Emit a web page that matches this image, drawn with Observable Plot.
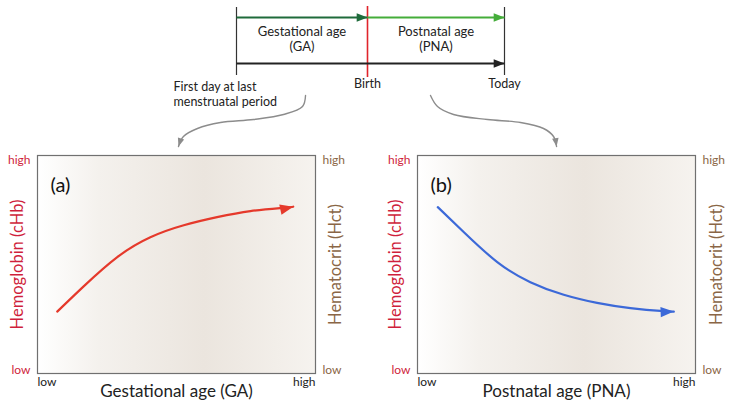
<!DOCTYPE html>
<html><head><meta charset="utf-8">
<script src="https://cdn.jsdelivr.net/npm/d3@7"></script>
<script src="https://cdn.jsdelivr.net/npm/@observablehq/plot@0.6"></script>
<style>
body{margin:0;background:#fff;}
#fig{position:relative;width:732px;height:412px;overflow:hidden;font-family:Lato,sans-serif;}
</style></head><body>
<svg width="0" height="0" style="position:absolute"><defs>
<linearGradient id="bg" x1="0" x2="1" y1="0" y2="0">
<stop offset="0" stop-color="#ffffff"/><stop offset="0.22" stop-color="#f4f1ed"/><stop offset="0.6" stop-color="#ebe5de"/><stop offset="1" stop-color="#f6f3ef"/>
</linearGradient></defs></svg>
<div id="fig"></div>
<script>
// ---- data ----
const events = ["First day at last\nmenstruatal period", "Birth", "Today"];
const eventTimes = [0, 1, 2];
const periods = ["Gestational age\n(GA)", "Postnatal age\n(PNA)"];
const periodStart = [0, 1];
const periodEnd = [1, 2];
// curved connectors from the timeline down to the two panels
const connLeftT  = [0.527, 0.504, 0.359, 0.130, -0.122, -0.298, -0.405, -0.443];
const connRightT = [1.460, 1.511, 1.628, 1.876, 2.117, 2.285, 2.358, 2.380];
const connY      = [95, 106, 114, 119, 122, 128, 136, 146];
const panelLabels = ["(a)", "(b)"];
const xTitles = ["Gestational age (GA)", "Postnatal age (PNA)"];
const yTitleLeft = "Hemoglobin (cHb)";
const yTitleRight = "Hematocrit (Hct)";
const levelLabels = ["low", "high"];
// panel (a): hemoglobin vs gestational age (relative 0..1)
const ga  = [0.071, 0.167, 0.287, 0.406, 0.526, 0.646, 0.766, 0.886, 0.920];
const hbA = [0.284, 0.401, 0.534, 0.625, 0.680, 0.717, 0.745, 0.760, 0.765];
// panel (b): hemoglobin vs postnatal age (relative 0..1)
const pna = [0.073, 0.167, 0.287, 0.406, 0.526, 0.646, 0.766, 0.886, 0.922];
const hbB = [0.763, 0.648, 0.511, 0.419, 0.361, 0.324, 0.300, 0.286, 0.284];

const RED = "#cf1f3c", BROWN = "#8a6646", DKGREEN = "#1f6b3b", LTGREEN = "#45ad3a";
const FONT = "Lato, sans-serif";

function fixMarkers(svg) {
  svg.querySelectorAll("marker").forEach(m => {
    const c = m.getAttribute("stroke");
    m.setAttribute("viewBox", "-10 -5 10 10");
    m.setAttribute("fill", c);
    m.setAttribute("stroke", "none");
    m.querySelectorAll("path").forEach(p => p.setAttribute("d", "M-9,-3.5L0,0L-9,3.5Z"));
  });
  return svg;
}
function place(el, left, top) {
  el.style.position = "absolute";
  el.style.left = left + "px";
  el.style.top = top + "px";
  el.style.background = "transparent";
  el.style.fontFamily = FONT;
  document.getElementById("fig").appendChild(el);
}

// ---- timeline ----
const spans = periods.map((p, i) => ({label: p, from: periodStart[i], to: periodEnd[i]}));
const evts = events.map((e, i) => ({label: e, t: eventTimes[i]}));
const conn = [
  ...connLeftT.map((t, j) => ({id: 0, t, y: connY[j]})),
  ...connRightT.map((t, j) => ({id: 1, t, y: connY[j]}))
];

const timeline = Plot.plot({
  width: 732, height: 152, margin: 0,
  x: {type: "linear", domain: eventTimes, range: [236, 367, 504], axis: null},
  y: {type: "identity", axis: null},
  marks: [
    Plot.ruleX(evts.filter(d => d.t !== 1), {x: "t", y1: 7, y2: 75, stroke: "#333", strokeWidth: 1.2}),
    Plot.ruleX(evts.filter(d => d.t === 1), {x: "t", y1: 6, y2: 77, stroke: "#e0242b", strokeWidth: 1.6}),
    Plot.link(spans.slice(0, 1), {x1: "from", x2: "to", y1: 17, y2: 17, stroke: DKGREEN, strokeWidth: 1.8, markerEnd: "arrow"}),
    Plot.link(spans.slice(1), {x1: "from", x2: "to", y1: 17, y2: 17, stroke: LTGREEN, strokeWidth: 1.8, markerEnd: "arrow"}),
    Plot.link([{from: eventTimes[0], to: eventTimes[2]}], {x1: "from", x2: "to", y1: 63, y2: 63, stroke: "#222", strokeWidth: 1.8, markerEnd: "arrow"}),
    Plot.text(spans, {x: d => (d.from + d.to) / 2, y: 38, text: "label", fontSize: 13, lineHeight: 1.15, fill: "#222"}),
    Plot.text(evts.filter(d => d.t === 0), {x: "t", y: 79, text: "label", lineAnchor: "top", textAnchor: "start", dx: -63, fontSize: 12.5, lineHeight: 1.25, fill: "#222"}),
    Plot.text(evts.filter(d => d.t !== 0), {x: "t", y: 79, text: "label", lineAnchor: "top", fontSize: 12.5, fill: "#222"}),
    Plot.line(conn, {x: "t", y: "y", z: "id", curve: "catmull-rom", stroke: "#8c8c8c", strokeWidth: 1.4, markerEnd: "arrow"})
  ]
});
place(fixMarkers(timeline), 0, 0);

// ---- panels ----
function panel(i, xs, ys, color) {
  const pts = xs.map((x, j) => ({x, y: ys[j]}));
  const ml = i === 0 ? 37 : 51, mr = i === 0 ? 51 : 37;
  const dxL = i === 0 ? -20 : -22, dxR = i === 0 ? 20 : 21;
  const common = {tickSize: 0, fontSize: 12, label: null};
  return Plot.plot({
    width: 366, height: 260, marginTop: 3, marginBottom: 39, marginLeft: ml, marginRight: mr,
    x: {domain: [0, 1]}, y: {domain: [0, 1]},
    marks: [
      Plot.frame({fill: "url(#bg)", stroke: "#707070", strokeWidth: 1.2}),
      Plot.axisX({...common, ticks: [0], tickFormat: () => levelLabels[0], textAnchor: "start", tickPadding: 4, fill: "#222"}),
      Plot.axisX({...common, ticks: [1], tickFormat: () => levelLabels[1], textAnchor: "end", tickPadding: 4, fill: "#222"}),
      Plot.axisY({...common, anchor: "left", ticks: [1], tickFormat: () => levelLabels[1], lineAnchor: "top", tickPadding: 7, fill: RED}),
      Plot.axisY({...common, anchor: "left", ticks: [0], tickFormat: () => levelLabels[0], lineAnchor: "bottom", tickPadding: 7, fill: RED}),
      Plot.axisY({...common, anchor: "right", ticks: [1], tickFormat: () => levelLabels[1], lineAnchor: "top", tickPadding: 7, fill: BROWN}),
      Plot.axisY({...common, anchor: "right", ticks: [0], tickFormat: () => levelLabels[0], lineAnchor: "bottom", tickPadding: 7, fill: BROWN}),
      Plot.text([yTitleLeft], {frameAnchor: "left", textAnchor: "middle", rotate: -90, dx: dxL, fill: RED, fontSize: 16.5}),
      Plot.text([yTitleRight], {frameAnchor: "right", textAnchor: "middle", rotate: -90, dx: dxR, fill: BROWN, fontSize: 16.5}),
      Plot.text([xTitles[i]], {frameAnchor: "bottom", dy: 23, fontSize: 17, fill: "#222"}),
      Plot.text([panelLabels[i]], {frameAnchor: "top-left", dx: 13, dy: 22, textAnchor: "start", fontSize: 20, fill: "#111"}),
      Plot.line(pts, {x: "x", y: "y", curve: "natural", stroke: color, strokeWidth: 2.2, markerEnd: "arrow"})
    ]
  });
}
place(fixMarkers(panel(0, ga, hbA, "#e5392b")), 0, 152);
place(fixMarkers(panel(1, pna, hbB, "#3c69d8")), 366, 152);
</script>
</body></html>
